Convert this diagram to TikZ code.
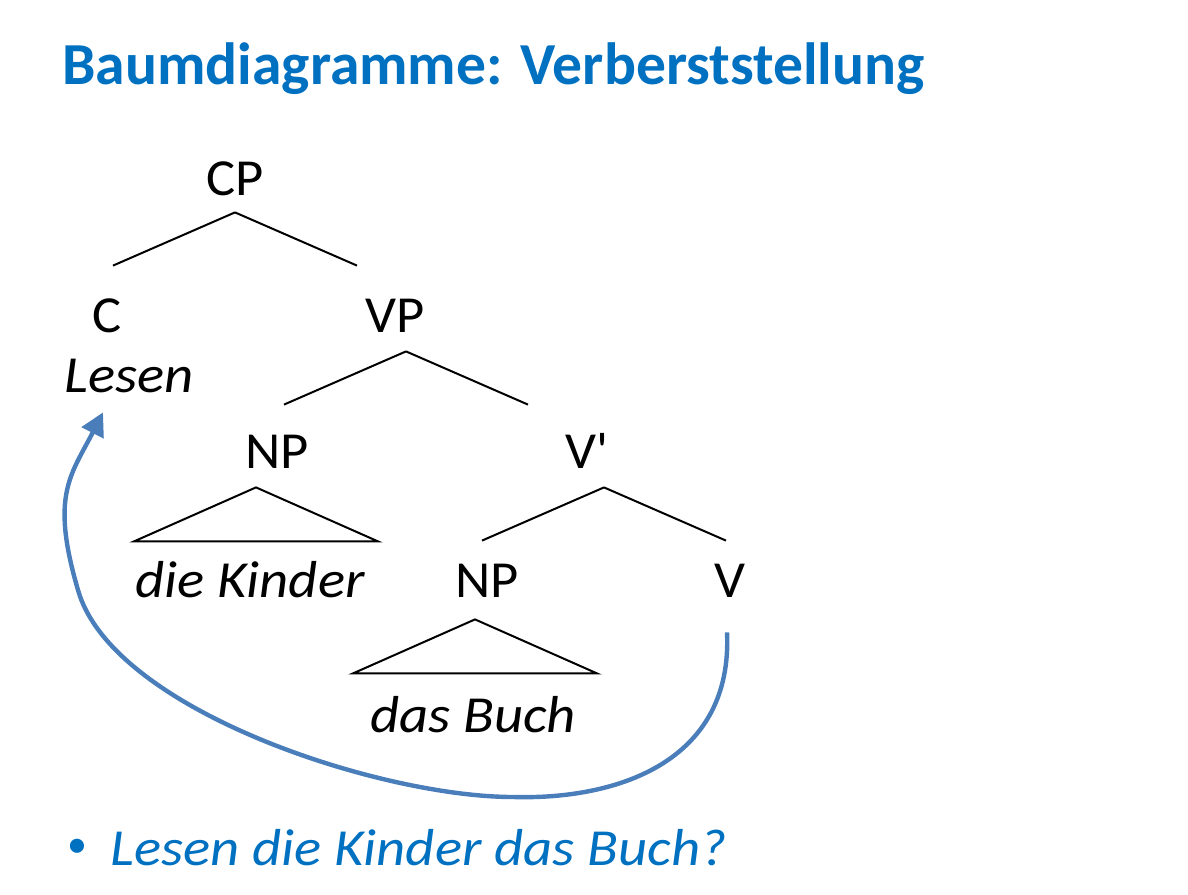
\documentclass[tikz,border=0pt]{standalone}
\usepackage{fontspec}
\setmainfont{Carlito}
\newfontfamily\arborefont{Carlito}[FakeStretch=1.05]
\newfontfamily\cuvfont{Carlito}[FakeStretch=1.09]
\usepackage{tikz}
\usetikzlibrary{arrows, arrows.meta}
\definecolor{titlublue}{RGB}{0,112,192}
\definecolor{sageata}{RGB}{74,126,187}
\newcommand{\marime}[1]{\fontsize{#1}{1.2\dimexpr#1pt\relax}\selectfont}

\begin{document}
\begin{tikzpicture}[x=0.5pt, y=-0.5pt]
        \tikzstyle{cat}     = [font=\arborefont\marime{26}, inner xsep=0pt, inner ysep=8.5pt, text height=24pt, text depth=0pt, anchor=base]
        \tikzstyle{cuv}     = [cat, font=\cuvfont\marime{26}\itshape]
        \tikzstyle{ramura}  = [line width=1pt, line join=miter]
        \tikzstyle{mutare}  = [-{Triangle[length=11.5pt, width=12pt]}, line width=2.2pt, draw=sageata]
        \tikzstyle{titlu}   = [font=\marime{29.8}\bfseries, text=titlublue, inner sep=0pt, anchor=base west]
        \tikzstyle{exemplu} = [font=\cuvfont\marime{26}\itshape, text=titlublue, inner sep=0pt, anchor=base west]

        \useasboundingbox (0,0) rectangle (1188,894);

        % Titlul.
        \node[titlu] (titlu) at (62,84) {Baumdiagramme: Verberststellung};

        % Categoriile din arbore.
        \foreach \nume/\x/\y/\eticheta in {
                  CP/235/195/CP,
                   C/107/332/C,
                  VP/395/332/VP,
                 NPa/277/468/NP,
                Vbar/587/468/V\textquotesingle,
                 NPb/487/597/NP,
                   V/730/597/V} {
            \node[cat] (\nume) at (\x,\y) {\eticheta};
        }

        % Cuvintele.
        \node[cuv] (lesen)  at (129,392) {Lesen};
        \node[cuv] (kinder) at (250,597) {die Kinder};
        \node[cuv] (buch)   at (473,732) {das Buch};

        % Ramurile.
        \draw[ramura] (CP.south) -- ([shift={(6,-1)}]C.north);
        \draw[ramura] (CP.south) -- ([shift={(-38,-1)}]VP.north);
        \draw[ramura] ([shift={(11,2)}]VP.south) -- ([shift={(7,2)}]NPa.north);
        \draw[ramura] ([shift={(11,2)}]VP.south) -- ([shift={(-59,2)}]Vbar.north);
        \draw[ramura] ([shift={(17,2)}]Vbar.south) -- ([shift={(-5,9)}]NPb.north);
        \draw[ramura] ([shift={(17,2)}]Vbar.south) -- ([shift={(-4,9)}]V.north);

        % Triunghiurile.
        \draw[ramura] ([shift={(-21,2)}]NPa.south) -- ++(-122,54) -- ++(244,0) -- cycle;
        \draw[ramura] ([shift={(-12,5)}]NPb.south) -- ++(-122,54) -- ++(244,0) -- cycle;

        % Miscarea verbului.
        \draw[mutare] ([shift={(-3,18)}]V.south)
            .. controls (733,760) and (620,800) .. (513,797)
            .. controls (380,797) and (112,710) .. (78,590)
            .. controls (50,495) and (71,475) .. ([shift={(-26,3)}]lesen.south);

        % Exemplul.
        \node[font=\marime{20}, text=titlublue, inner sep=0pt] (punct) at (77,848) {•};
        \node[exemplu] (propozitie) at (110,865) {Lesen die Kinder das Buch?};
    \end{tikzpicture}
\end{document}
